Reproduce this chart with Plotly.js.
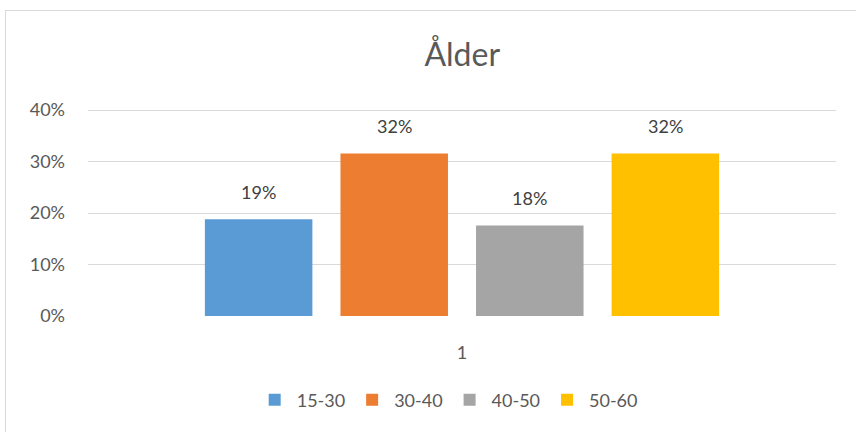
<!DOCTYPE html>
<html><head><meta charset="utf-8">
<script src="https://cdn.plot.ly/plotly-3.0.1.min.js"></script>
<style>
body{margin:0;padding:0;background:#fff;}
#wrap{position:relative;width:856px;height:432px;overflow:hidden;}
#chart{position:absolute;left:0;top:0;width:856px;height:432px;}
#frame{position:absolute;left:5px;top:10px;width:860px;height:440px;border:1px solid #d9d9d9;pointer-events:none;box-sizing:border-box;}
</style></head>
<body><div id="wrap"><div id="chart"></div><div id="frame"></div></div>
<script>
const categories = ["1"];
const seriesNames = ["15-30", "30-40", "40-50", "50-60"];
const seriesValues = [[0.188], [0.316], [0.176], [0.316]];
const colors = ["#5b9bd5", "#ed7d31", "#a5a5a5", "#ffc000"];
const yTickVals = [0, 0.1, 0.2, 0.3, 0.4];
const yTickText = ["0%", "10%", "20%", "30%", "40%"];
const FONT = "Lato, 'Open Sans', sans-serif";

const traces = seriesNames.map((n, i) => ({
  type: "bar", name: n, x: categories, y: seriesValues[i],
  marker: {color: colors[i]}, hoverinfo: "none"
}));

const layout = {
  width: 856, height: 432,
  margin: {l: 88, r: 20, t: 105, b: 116},
  paper_bgcolor: "#fff", plot_bgcolor: "#fff",
  font: {family: FONT, color: "#595959", size: 16},
  title: {text: "Ålder", font: {family: FONT, size: 32, color: "#595959"},
          x: 0.54, xanchor: "center", yref: "container", y: 0.873, yanchor: "middle"},
  barmode: "group", bargap: 0.275, bargroupgap: 0.207,
  xaxis: {type: "category", showgrid: false, zeroline: false, showline: false,
          ticks: "", ticklabelstandoff: 24, tickfont: {family: FONT, size: 18, color: "#595959"}},
  yaxis: {range: [0, 0.41], tickvals: yTickVals, ticktext: yTickText,
          showgrid: true, gridcolor: "#d9d9d9", gridwidth: 1, zeroline: false,
          showline: false, ticks: "", ticklabelstandoff: 22,
          tickfont: {family: FONT, size: 18, color: "#595959"}},
  showlegend: true,
  legend: {orientation: "h", xref: "container", x: 0.523, xanchor: "center",
           yref: "container", y: 0.074, yanchor: "middle",
           font: {family: FONT, size: 18, color: "#595959"},
           itemwidth: 34, traceorder: "normal"}
};
Plotly.newPlot("chart", traces, layout, {staticPlot: true}).then(gd => {
  // place value labels above each bar using the library's bar positions
  const anns = [];
  gd.calcdata.forEach((cd, i) => {
    cd.forEach(pt => {
      anns.push({
        xref: "x", yref: "y", x: pt.p + (cd[0].t.poffset || 0) + (cd[0].t.barwidth || 0) / 2,
        y: seriesValues[i][0], text: Math.round(seriesValues[i][0] * 100) + "%",
        showarrow: false, yanchor: "bottom", yshift: 14,
        font: {family: FONT, size: 18, color: "#404040"}
      });
    });
  });
  Plotly.relayout(gd, {annotations: anns});
});
</script></body></html>
